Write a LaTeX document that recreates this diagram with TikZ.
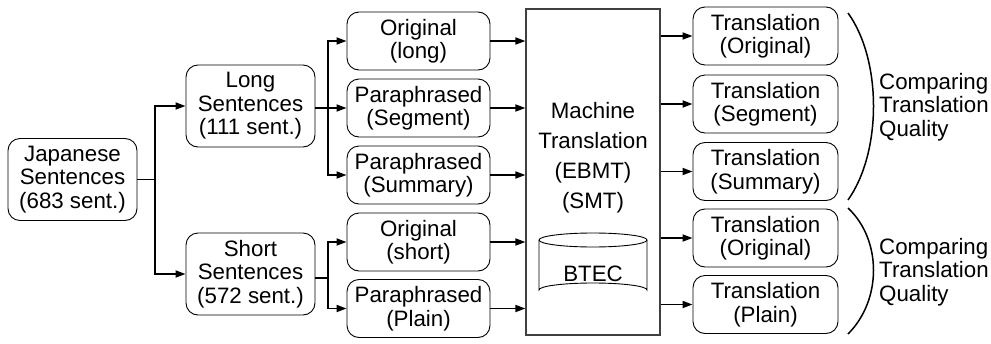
\documentclass[tikz,border=0pt]{standalone}
\usepackage{fontspec}
\setmainfont{Liberation Sans}
\usetikzlibrary{arrows.meta}
\begin{document}
\begin{tikzpicture}[x=1pt,y=-1pt,
  every node/.style={font=\fontsize{22.3}{23.5}\selectfont, inner sep=0pt, align=center},
  rbox/.style={draw, line width=0.9pt, rounded corners=12pt},
  lbox/.style={rbox, minimum width=129pt, minimum height=82pt},
  mbox/.style={rbox, minimum width=143pt, minimum height=58pt},
  tbox/.style={rbox, minimum width=145pt, minimum height=58pt},
  arr/.style={line width=1.7pt, -{Triangle[length=10pt,width=7pt]}},
  ln/.style={line width=1.7pt},
  brace/.style={line width=1.5pt}]
\useasboundingbox (0,0) rectangle (991,343);

% left column
\node[lbox] (jp) at (72.5,179.5) {Japanese\\Sentences\\(683 sent.)};
\node[lbox] (long) at (250.5,106) {Long\\Sentences\\(111 sent.)};
\node[lbox] (short) at (250.5,274) {Short\\Sentences\\(572 sent.)};

% middle column
\node[mbox] (ol) at (418.5,41) {Original\\(long)};
\node[mbox] (ps) at (418.5,108) {Paraphrased\\(Segment)};
\node[mbox] (pm) at (418.5,175) {Paraphrased\\(Summary)};
\node[mbox] (os) at (418.5,242) {Original\\(short)};
\node[mbox] (pp) at (418.5,308.5) {Paraphrased\\(Plain)};

% machine translation box
\node[draw, line width=1.2pt, draw=black!75, minimum width=134pt, minimum height=326pt] (mt) at (593,172) {};
\node[font=\fontsize{22.3}{30}\selectfont] (mtl) at (593,158) {Machine\\Translation\\(EBMT)\\(SMT)};

% BTEC cylinder
\draw[line width=0.9pt] (539,240) -- (539,290) arc[start angle=180, end angle=360, x radius=54, y radius=7] -- (647,240);
\draw[line width=0.9pt] (593,240) ellipse[x radius=54, y radius=7];
\node (btec) at (593,274) {BTEC};

% right column
\node[tbox] (t1) at (765.5,36) {Translation\\(Original)};
\node[tbox] (t2) at (765.5,104) {Translation\\(Segment)};
\node[tbox] (t3) at (765.5,171.5) {Translation\\(Summary)};
\node[tbox] (t4) at (765.5,238) {Translation\\(Original)};
\node[tbox] (t5) at (765.5,304.5) {Translation\\(Plain)};

% connectors left
\coordinate (j1) at (155,179.5);
\draw[ln] (jp.east) -- (j1);
\draw[arr] (j1) |- (long.west);
\draw[arr] (j1) |- (short.west);

\coordinate (j2) at (328,108);
\draw[ln] (long.east |- j2) -- (j2);
\draw[arr] (j2) |- (ol.west);
\draw[arr] (j2) |- (ps.west);
\draw[arr] (j2) |- (pm.west);

\coordinate (j3) at (328,278);
\draw[ln] (short.east |- j3) -- (j3);
\draw[arr] (j3) |- (os.west);
\draw[arr] (j3) |- (pp.west);

% into MT
\foreach \n in {ol,ps,pm,os,pp}
  \draw[arr] (\n.east) -- (mt.west |- \n.east);

% out of MT
\foreach \n in {t1,t2,t3,t4,t5}
  \draw[arr] (mt.east |- \n.west) -- (\n.west);

% braces
\draw[brace] (848,13) .. controls (882,60) and (882,152) .. (848,200);
\draw[brace] (848,208) .. controls (882,240) and (882,300) .. (848,334);

\node[align=left, anchor=west] (c1) at (879,107) {Comparing\\Translation\\Quality};
\node[align=left, anchor=west] (c2) at (879,272) {Comparing\\Translation\\Quality};
\end{tikzpicture}
\end{document}
